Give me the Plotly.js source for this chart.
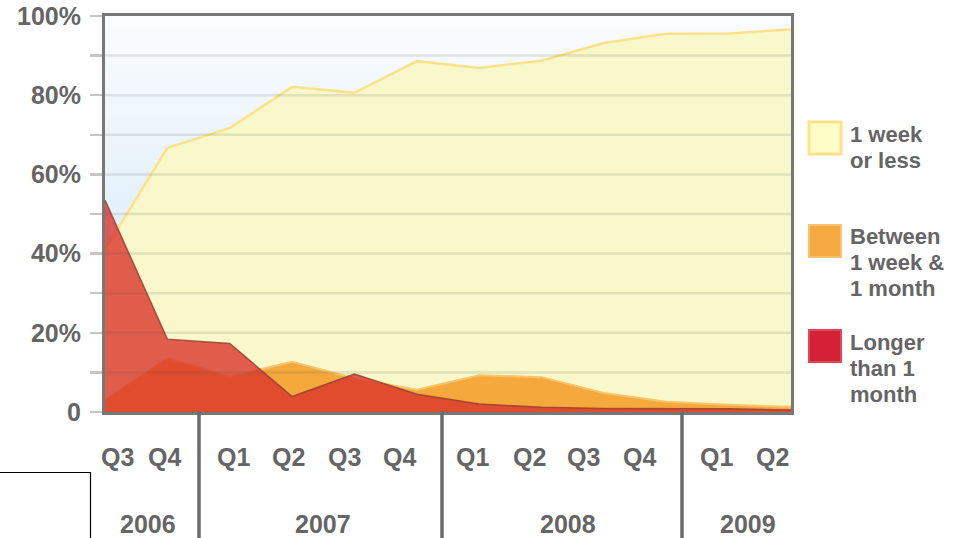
<!DOCTYPE html>
<html><head><meta charset="utf-8">
<script src="https://cdn.plot.ly/plotly-3.0.1.min.js"></script>
<style>html,body{margin:0;padding:0;background:#fff;overflow:hidden}#chart{width:967px;height:538px}</style>
</head><body><div id="chart"></div>
<script>
// ---- data ----
const periods = ['2006 Q3','2006 Q4','2007 Q1','2007 Q2','2007 Q3','2007 Q4','2008 Q1','2008 Q2','2008 Q3','2008 Q4','2009 Q1','2009 Q2'];
const quarterLabels = ['Q3','Q4','Q1','Q2','Q3','Q4','Q1','Q2','Q3','Q4','Q1','Q2'];
const yearLabels = ['2006','2007','2008','2009'];
const weekOrLess  = [41.0, 66.7, 71.7, 82.1, 80.6, 88.6, 86.9, 88.7, 93.2, 95.5, 95.6, 96.6];
const weekToMonth = [3.0, 13.6, 8.9, 12.7, 8.5, 5.6, 9.3, 8.8, 4.8, 2.6, 1.8, 1.3];
const overMonth   = [53.5, 18.4, 17.3, 3.9, 9.6, 4.5, 2.0, 1.2, 0.9, 0.8, 0.8, 0.5];
const yTickVals = [0,10,20,30,40,50,60,70,80,90,100];
const yTickText = ['0','','20%','','40%','','60%','','80%','','100%'];
const legendLines = [['1 week','or less'],['Between','1 week &','1 month'],['Longer','than 1','month']];

// ---- layout helpers (pixel -> paper) ----
const L=105, R=176, T=16, B=126, W=967, H=538;
const PW=W-L-R, PH=H-T-B;
const px = v => (v-L)/PW;
const py = v => (H-B-v)/PH;

const FONT = 'Liberation Sans, Arial, sans-serif';
const TXT = '#656565';

// layout positions of decorations
const quarterPx = [117,164,233,288,344,399,472.5,529,583,639,716,772];
const yearPx = [148,322.5,567.5,747.5];
const sepPx = [199,442,682];
const legendBoxes = [
  {y0:122,y1:154,fill:'#fefdc8',line:'#fde28a',lw:3},
  {y0:225,y1:257,fill:'#f5aa42',line:'#f8c272',lw:2},
  {y0:330,y1:362,fill:'#d52136',line:'#dd4a57',lw:2}
];
const legendLineY = [[134,160],[236,262,288],[342,368,394]];

const traces = [
  {x:periods, y:weekOrLess, type:'scatter', mode:'lines', fill:'tozeroy',
   fillcolor:'#f8f8ca', line:{color:'#fde28a', width:2.5}, name:'1 week or less', hoverinfo:'skip'},
  {x:periods, y:weekToMonth, type:'scatter', mode:'lines', fill:'tozeroy',
   fillcolor:'#f5a93c', line:{color:'#f9c46c', width:2}, name:'Between 1 week & 1 month', hoverinfo:'skip'},
  {x:periods, y:overMonth, type:'scatter', mode:'lines', fill:'tozeroy',
   fillcolor:'rgba(218,52,42,0.8)', line:{color:'rgba(150,62,52,0.85)', width:1.5}, name:'Longer than 1 month', hoverinfo:'skip'}
];

const shapes = [];
yTickVals.filter(v=>v>0 && v<100).forEach(v=>{
  shapes.push({type:'line', xref:'paper', yref:'y', x0:0, x1:1, y0:v, y1:v, layer:'above',
    line:{color:'rgba(90,90,90,0.14)', width:2.5}});
});
sepPx.forEach(s=>{
  shapes.push({type:'line', xref:'paper', yref:'paper', x0:px(s), x1:px(s), y0:py(411), y1:py(540),
    line:{color:'#6b6b6b', width:3.5}});
});
shapes.push({type:'rect', xref:'paper', yref:'paper', x0:px(-3), x1:px(90.5), y0:py(472.5), y1:py(545),
  line:{color:'#000', width:1.2}, fillcolor:'rgba(0,0,0,0)'});
legendBoxes.forEach(b=>{
  shapes.push({type:'rect', xref:'paper', yref:'paper', x0:px(809), x1:px(841), y0:py(b.y1), y1:py(b.y0),
    line:{color:b.line, width:b.lw}, fillcolor:b.fill});
});

const annotations = [];
quarterLabels.forEach((q,i)=>{
  annotations.push({xref:'paper', yref:'paper', x:px(quarterPx[i]), y:py(457), text:q, showarrow:false,
    xanchor:'center', yanchor:'middle', font:{family:FONT, size:25, color:TXT, weight:'bold'}});
});
yearLabels.forEach((yl,i)=>{
  annotations.push({xref:'paper', yref:'paper', x:px(yearPx[i]), y:py(524), text:yl, showarrow:false,
    xanchor:'center', yanchor:'middle', font:{family:FONT, size:25, color:TXT, weight:'bold'}});
});
legendLines.forEach((lines,i)=>{
  lines.forEach((t,j)=>{
    annotations.push({xref:'paper', yref:'paper', x:px(848), y:py(legendLineY[i][j]), text:t, showarrow:false,
      xanchor:'left', yanchor:'middle', font:{family:FONT, size:22, color:TXT, weight:'bold'}});
  });
});

const svg = "<svg xmlns='http://www.w3.org/2000/svg' width='10' height='10' preserveAspectRatio='none'><defs><linearGradient id='g' x1='0' y1='0' x2='0' y2='1'><stop offset='0' stop-color='#fafcfe'/><stop offset='1' stop-color='#cde5f7'/></linearGradient></defs><rect width='10' height='10' fill='url(#g)'/></svg>";

const layout = {
  width:W, height:H, margin:{l:L, r:R, t:T, b:B, pad:0},
  paper_bgcolor:'#ffffff', plot_bgcolor:'rgba(0,0,0,0)',
  showlegend:false,
  font:{family:FONT, color:TXT},
  xaxis:{type:'category', range:[0, periods.length-1], showgrid:false, zeroline:false,
    showticklabels:false, ticks:'', showline:true, mirror:true, linecolor:'#777', linewidth:3, fixedrange:true},
  yaxis:{range:[0,100], showgrid:false, zeroline:false, tickvals:yTickVals, ticktext:yTickText,
    ticks:'outside', ticklen:12, tickwidth:2.5, tickcolor:'#c6c6c6', ticklabelstandoff:4,
    tickfont:{family:FONT, size:25, color:TXT, weight:'bold'},
    showline:true, mirror:true, linecolor:'#777', linewidth:3, fixedrange:true},
  images:[{source:'data:image/svg+xml;charset=utf-8,'+encodeURIComponent(svg), xref:'paper', yref:'paper',
    x:0, y:1, sizex:1, sizey:1, xanchor:'left', yanchor:'top', sizing:'stretch', layer:'below'}],
  shapes:shapes,
  annotations:annotations
};

Plotly.newPlot('chart', traces, layout, {staticPlot:true, displayModeBar:false});
</script>
</body></html>
